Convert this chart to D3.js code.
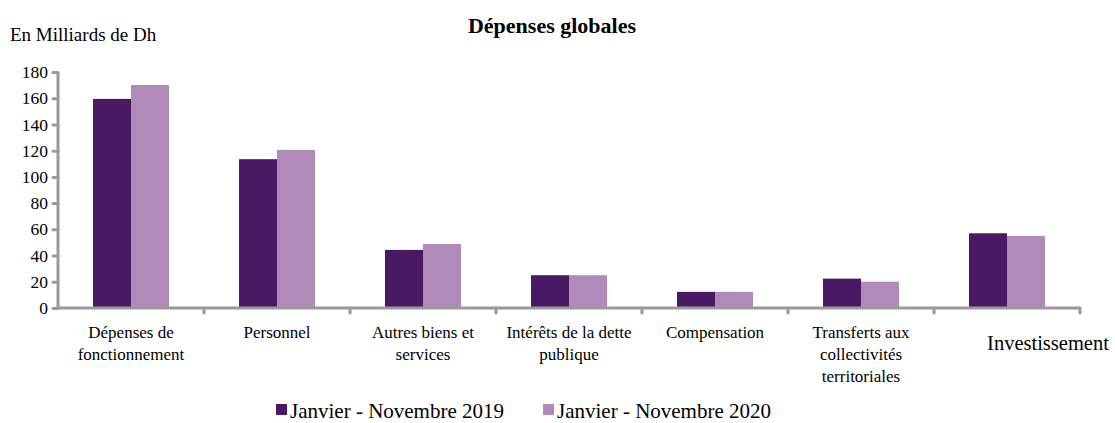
<!DOCTYPE html>
<html>
<head>
<meta charset="utf-8">
<script src="https://cdn.jsdelivr.net/npm/d3@7"></script>
<style>
  body { margin: 0; background: #fff; }
  svg { display: block; }
</style>
</head>
<body>
<svg id="chart" width="1115" height="423"></svg>
<script>
// Dépenses globales, en milliards de dirhams
const categories = [
  "Dépenses de fonctionnement",
  "Personnel",
  "Autres biens et services",
  "Intérêts de la dette publique",
  "Compensation",
  "Transferts aux collectivités territoriales",
  "Investissement"
];
const categoryLines = [
  ["Dépenses de", "fonctionnement"],
  ["Personnel"],
  ["Autres biens et", "services"],
  ["Intérêts de la dette", "publique"],
  ["Compensation"],
  ["Transferts aux", "collectivités", "territoriales"],
  ["Investissement"]
];
const seriesNames = ["Janvier - Novembre 2019", "Janvier - Novembre 2020"];
const values2019 = [159.5, 113.5, 44.3, 25.0, 12.3, 22.4, 57.0];
const values2020 = [170.1, 120.6, 48.8, 25.0, 12.3, 20.1, 55.0];
const yTicks = [0, 20, 40, 60, 80, 100, 120, 140, 160, 180];

const colors = ["#4a1963", "#b08ab9"];
const axisColor = "#9a9a9a";
const FONT = "'Liberation Serif', 'Times New Roman', serif";

const svg = d3.select("#chart").attr("font-family", FONT);
const plotLeft = 58, plotRight = 1080, plotTop = 72, plotBottom = 308;

const x = d3.scaleBand().domain(categories).range([plotLeft, plotRight]).paddingInner(0).paddingOuter(0);
const xs = d3.scaleBand().domain(seriesNames).range([0, x.bandwidth()]).paddingInner(0).paddingOuter(0.92);
const y = d3.scaleLinear().domain([0, 180]).range([plotBottom, plotTop]);

// Title and unit
svg.append("text")
  .attr("x", 552).attr("y", 33)
  .attr("text-anchor", "middle")
  .attr("font-family", FONT)
  .attr("font-weight", "bold").attr("font-size", 22)
  .text("Dépenses globales");
svg.append("text")
  .attr("x", 10).attr("y", 41)
  .attr("font-family", FONT)
  .attr("font-size", 19)
  .text("En Milliards de Dh");

// Bars
const series = [values2019, values2020];
series.forEach((vals, si) => {
  svg.append("g").selectAll("rect")
    .data(vals.map((v, i) => ({ cat: categories[i], v })))
    .join("rect")
    .attr("x", d => x(d.cat) + xs(seriesNames[si]))
    .attr("width", xs.bandwidth())
    .attr("y", d => y(d.v))
    .attr("height", d => y(0) - y(d.v))
    .attr("fill", colors[si]);
});

// Y axis
const yAxis = svg.append("g")
  .attr("transform", `translate(${plotLeft},0)`)
  .call(d3.axisLeft(y).tickValues(yTicks).tickSize(5).tickPadding(5).tickFormat(d3.format("d")));
yAxis.attr("font-family", FONT);
yAxis.select(".domain").attr("stroke", axisColor).attr("stroke-width", 3)
  .attr("d", `M0,${plotTop}V${plotBottom}`);
yAxis.selectAll(".tick line").attr("stroke", axisColor).attr("stroke-width", 3).attr("stroke-linecap", "round");
yAxis.selectAll(".tick text").attr("font-size", 17.5).attr("fill", "#000")
  .attr("font-family", FONT);

// X axis: ticks on category boundaries
const xAxis = svg.append("g").attr("transform", `translate(0,${plotBottom})`);
xAxis.append("line")
  .attr("x1", plotLeft).attr("x2", plotRight)
  .attr("stroke", axisColor).attr("stroke-width", 3);
xAxis.selectAll("line.tick")
  .data(categories)
  .join("line")
  .attr("class", "tick")
  .attr("x1", d => x(d) + x.bandwidth()).attr("x2", d => x(d) + x.bandwidth())
  .attr("y1", 0).attr("y2", 5)
  .attr("stroke", axisColor).attr("stroke-width", 3).attr("stroke-linecap", "round");

// Category labels
categories.forEach((c, i) => {
  const last = i === categories.length - 1;
  const cx = x(c) + x.bandwidth() / 2 + (last ? 41 : 0);
  const t = svg.append("text")
    .attr("text-anchor", "middle")
    .attr("font-family", FONT)
    .attr("font-size", last ? 20.5 : 17)
    .attr("x", cx)
    .attr("y", last ? 350 : 338);
  categoryLines[i].forEach((line, j) => {
    t.append("tspan")
      .attr("x", cx)
      .attr("dy", j === 0 ? 0 : 22)
      .text(line);
  });
});

// Legend
const legendX = [276, 543];
seriesNames.forEach((name, i) => {
  const g = svg.append("g").attr("transform", `translate(${legendX[i]},0)`);
  g.append("rect").attr("x", 0).attr("y", 404).attr("width", 11).attr("height", 11).attr("fill", colors[i]);
  g.append("text").attr("x", 14).attr("y", 418)
    .attr("font-family", FONT).attr("font-size", 21).text(name);
});
</script>
</body>
</html>
